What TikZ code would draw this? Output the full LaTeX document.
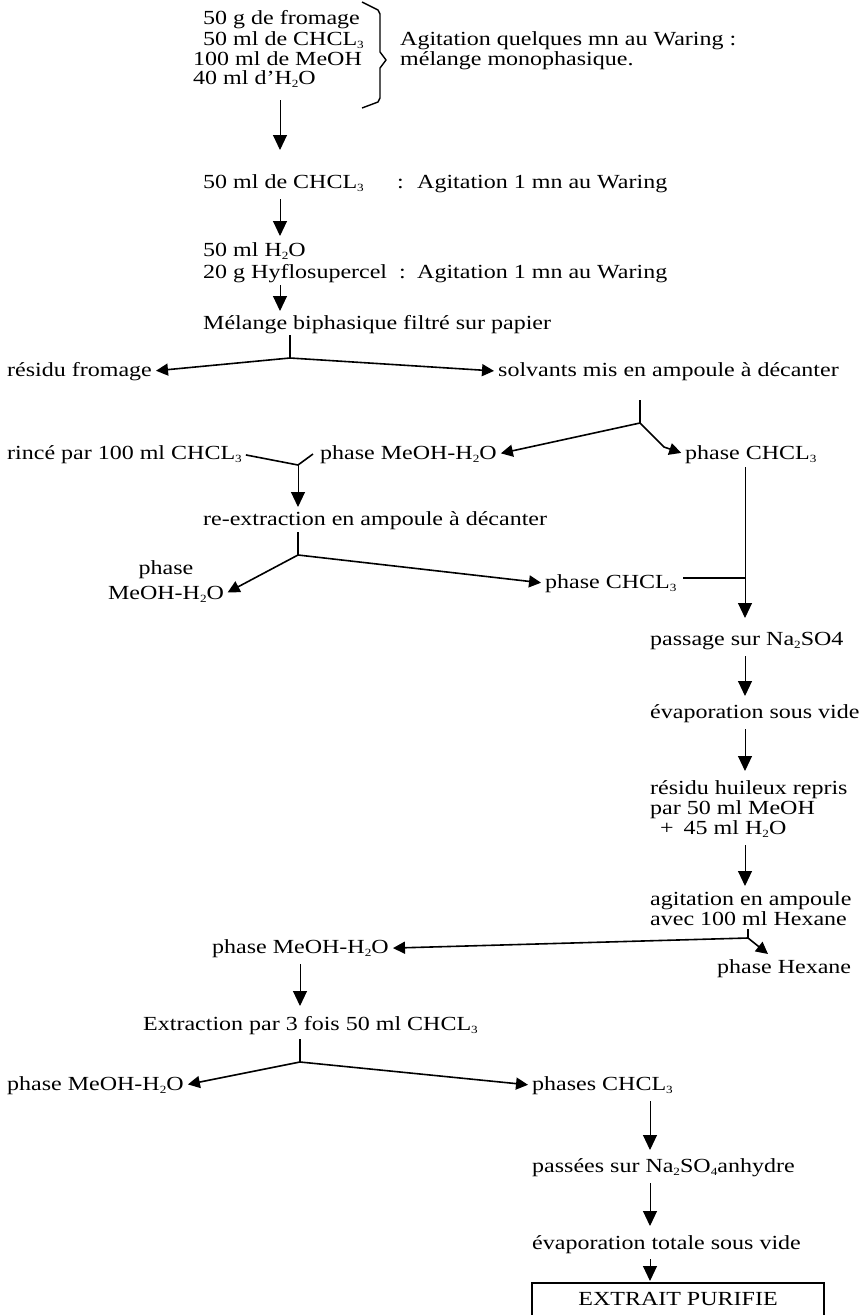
\documentclass[tikz,border=0pt]{standalone}
\usepackage{fontspec}
\setmainfont{Liberation Serif}[FakeStretch=1.2]
\usetikzlibrary{arrows.meta}
\newcommand{\dn}[1]{\raisebox{-0.4ex}{\fontsize{11}{11}\selectfont #1}}
\begin{document}
\begin{tikzpicture}[x=1pt,y=-1pt,
  lbl/.style={anchor=base west,inner sep=0pt,font=\fontsize{20}{20}\selectfont},
  lblc/.style={lbl,anchor=base},
  flow/.style={line width=1pt,-{Triangle[length=15pt,width=14pt]}},
  twig/.style={line width=1.6pt},
  twigarr/.style={line width=1.6pt,-{Triangle[length=12pt,width=12pt]}},
  gap/.style={shorten >=4pt},
  gapa/.style={shorten <=4pt}]
\fill[white] (0,0) rectangle (861,1315);
\useasboundingbox (0,0) rectangle (861,1315);

% ---- top block
\node[lbl] (t1) at (203,24) {50 g de fromage};
\node[lbl] (t2) at (203,45) {50 ml de CHCL\dn{3}};
\node[lbl] (t3) at (193,65) {100 ml de MeOH};
\node[lbl] (t4) at (193,84) {40 ml d’H\dn{2}O};
\draw[line width=1.4pt,line join=round] (362,2) -- (378,10) -- (380,14) -- (380,52) -- (386,60) -- (380,68) -- (380,98) -- (378,102) -- (362,108);
\node[lbl] (ag1) at (400,45) {Agitation quelques mn au Waring :};
\node[lbl] (ag2) at (400,65) {mélange monophasique.};

\coordinate (a1s) at (280,100);  \coordinate (a1e) at (280,150);
\draw[flow] (a1s) -- (a1e);

\node[lbl] (s2) at (203,188) {50 ml de CHCL\dn{3}};
\node[lbl] (c2) at (397,188) {:};
\node[lbl] (ag3) at (417,188) {Agitation 1 mn au Waring};
\coordinate (a2s) at (280,199);  \coordinate (a2e) at (280,236);
\draw[flow] (a2s) -- (a2e);

\node[lbl] (s3a) at (203,256) {50 ml H\dn{2}O};
\node[lbl] (s3b) at (203,278) {20 g Hyflosupercel};
\node[lbl] (c3) at (399,278) {:};
\node[lbl] (ag4) at (417,278) {Agitation 1 mn au Waring};
\coordinate (a3s) at (280,285);  \coordinate (a3e) at (280,311);
\draw[flow] (a3s) -- (a3e);

\node[lbl] (mel) at (203,329) {Mélange biphasique filtré sur papier};

% ---- first split
\coordinate (b1top) at (290,335); \coordinate (b1) at (290,358);
\node[lbl] (resf) at (7,376) {résidu fromage};
\node[lbl] (solv) at (498,376) {solvants mis en ampoule à décanter};
\draw[twig] (b1top) -- (b1);
\draw[twigarr,gap] (b1) -- (resf.east);
\draw[twigarr,gap] (b1) -- (solv.west);

% ---- second split
\coordinate (b2top) at (640,400); \coordinate (b2) at (640,423);
\coordinate (b2k) at (664,447);
\node[lbl] (phm1) at (320,459) {phase MeOH-H\dn{2}O};
\node[lbl] (phc1) at (685,459) {phase CHCL\dn{3}};
\draw[twig] (b2top) -- (b2);
\draw[twigarr,gap] (b2) -- (phm1.east);
\draw[twigarr,gap] (b2) -- (b2k) -- (phc1.west);

% ---- rinse junction
\node[lbl] (rince) at (7,459) {rincé par 100 ml CHCL\dn{3}};
\coordinate (yj) at (298,465); \coordinate (yk) at (313,454);
\coordinate (a4e) at (298,507);
\draw[twig,gapa] (rince.east) -- (yj);
\draw[twig] (yj) -- (yk);
\draw[flow] (yj) -- (a4e);

\node[lbl] (reex) at (203,525) {re-extraction en ampoule à décanter};
\coordinate (b3top) at (298,532); \coordinate (b3) at (298,555);
\node[lblc] (ph2a) at (166,574) {phase};
\node[lblc] (ph2b) at (166,599) {MeOH-H\dn{2}O};
\node[lbl] (phc2) at (545,588) {phase CHCL\dn{3}};
\draw[twig] (b3top) -- (b3);
\draw[twigarr,gap] (b3) -- (ph2b.east);
\draw[twigarr,gap] (b3) -- (phc2.west);
\coordinate (hl) at (683,578); \coordinate (vj) at (745,578);
\draw[line width=1.8pt] (hl) -- (vj);

% ---- right column
\coordinate (vtop) at (745,467); \coordinate (vbot) at (745,618);
\draw[flow] (vtop) -- (vbot);
\node[lbl] (pass) at (650,645) {passage sur Na\dn{2}SO4};
\coordinate (a5s) at (745,656); \coordinate (a5e) at (745,696);
\draw[flow] (a5s) -- (a5e);
\node[lbl] (evap) at (650,718) {évaporation sous vide};
\coordinate (a6s) at (745,729); \coordinate (a6e) at (745,771);
\draw[flow] (a6s) -- (a6e);
\node[lbl] (r1) at (650,794) {résidu huileux repris};
\node[lbl] (r2) at (650,814) {par 50 ml MeOH};
\node[lbl] (r3) at (660,834) {+\hspace{10pt}45 ml H\dn{2}O};
\coordinate (a7s) at (745,845); \coordinate (a7e) at (745,886);
\draw[flow] (a7s) -- (a7e);
\node[lbl] (g1) at (650,905) {agitation en ampoule};
\node[lbl] (g2) at (650,925) {avec 100 ml Hexane};

\coordinate (b4top) at (748,929); \coordinate (b4) at (748,938);
\coordinate (hx) at (768,954);
\node[lbl] (phm3) at (212,953) {phase MeOH-H\dn{2}O};
\node[lbl] (phhex) at (717,973) {phase Hexane};
\draw[twig] (b4top) -- (b4);
\draw[twigarr,gap] (b4) -- (phm3.east);
\draw[twigarr] (b4) -- (hx);

\coordinate (a8s) at (300,964); \coordinate (a8e) at (300,1006);
\draw[flow] (a8s) -- (a8e);
\node[lbl] (extr) at (143,1030) {Extraction par 3 fois 50 ml CHCL\dn{3}};
\coordinate (b5top) at (300,1039); \coordinate (b5) at (300,1062);
\node[lbl] (phm4) at (7,1090) {phase MeOH-H\dn{2}O};
\node[lbl] (phc4) at (532,1090) {phases CHCL\dn{3}};
\draw[twig] (b5top) -- (b5);
\draw[twigarr,gap] (b5) -- (phm4.east);
\draw[twigarr,gap] (b5) -- (phc4.west);

\coordinate (a9s) at (650,1101); \coordinate (a9e) at (650,1150);
\draw[flow] (a9s) -- (a9e);
\node[lbl] (passees) at (532,1172) {passées sur Na\dn{2}SO\dn{4}anhydre};
\coordinate (a10s) at (650,1183); \coordinate (a10e) at (650,1226);
\draw[flow] (a10s) -- (a10e);
\node[lbl] (evapt) at (532,1249) {évaporation totale sous vide};
\coordinate (a11s) at (650,1259); \coordinate (a11e) at (650,1281);
\draw[flow] (a11s) -- (a11e);

\coordinate (bx1) at (532,1318); \coordinate (bx2) at (532,1283);
\coordinate (bx3) at (824,1283); \coordinate (bx4) at (824,1318);
\draw[line width=1.4pt] (bx1) -- (bx2) -- (bx3) -- (bx4);
\node[lblc] (ext) at (678,1305) {EXTRAIT PURIFIE};
\end{tikzpicture}
\end{document}
